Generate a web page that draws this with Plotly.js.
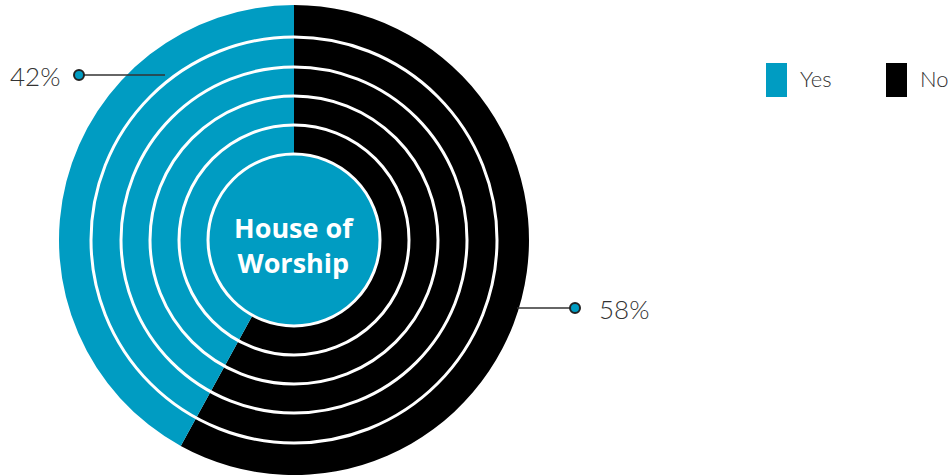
<!DOCTYPE html>
<html>
<head>
<meta charset="utf-8">
<script src="https://cdn.plot.ly/plotly-3.0.1.min.js"></script>
<style>html,body{margin:0;padding:0;background:#fff;}#chart{width:949px;height:476px;}</style>
</head>
<body>
<div id="chart"></div>
<script>
// ---- data ----
const labels = ['Yes', 'No'];
const values = [42, 58];
const colors = ['#009cc2', '#000000'];
const centerLabel = ['House of', 'Worship'];

// ---- layout helpers (pixel -> paper, margins are zero) ----
const W = 949, H = 476;
const px = x => x / W;
const py = y => 1 - y / H;
const cx = 294, cy = 240, R = 235;

const shapes = [];
// concentric white rings
[115, 144, 173, 203].forEach(r => {
  shapes.push({type: 'circle', xref: 'paper', yref: 'paper',
    x0: px(cx - r), x1: px(cx + r), y0: py(cy + r), y1: py(cy - r),
    line: {color: '#ffffff', width: 3}});
});
// centre disc
shapes.push({type: 'circle', xref: 'paper', yref: 'paper',
  x0: px(cx - 86), x1: px(cx + 86), y0: py(cy + 86), y1: py(cy - 86),
  fillcolor: colors[0], line: {color: '#ffffff', width: 3}});

// leader lines + dots
const leaders = [
  {x0: 165, x1: 79, y: 75, tx: 62, anchor: 'right'},
  {x0: 517, x1: 575, y: 308, tx: 597, anchor: 'left'}
];
const annotations = [];
leaders.forEach((l, i) => {
  shapes.push({type: 'line', xref: 'paper', yref: 'paper',
    x0: px(l.x0), x1: px(l.x1), y0: py(l.y), y1: py(l.y),
    line: {color: '#333333', width: 1.5}});
  shapes.push({type: 'circle', xref: 'paper', yref: 'paper',
    x0: px(l.x1 - 5), x1: px(l.x1 + 5), y0: py(l.y + 5), y1: py(l.y - 5),
    fillcolor: colors[0], line: {color: '#222222', width: 2}});
  annotations.push({xref: 'paper', yref: 'paper', x: px(l.tx), y: py(l.y + 1),
    xanchor: l.anchor, yanchor: 'middle', showarrow: false,
    text: values[i] + '%', font: {family: 'Lato', size: 26, color: '#333333', weight: 300}});
});

// custom legend
const legX = [766, 886];
labels.forEach((lab, i) => {
  shapes.push({type: 'rect', xref: 'paper', yref: 'paper',
    x0: px(legX[i]), x1: px(legX[i] + 21), y0: py(97), y1: py(63),
    fillcolor: colors[i], line: {width: 0}});
  annotations.push({xref: 'paper', yref: 'paper', x: px(legX[i] + 32), y: py(79),
    xanchor: 'left', yanchor: 'middle', showarrow: false,
    text: lab, font: {family: 'Lato', size: 22, color: '#333333', weight: 300}});
});

// centre text
annotations.push({xref: 'paper', yref: 'paper', x: px(cx), y: py(cy + 5),
  xanchor: 'center', yanchor: 'middle', showarrow: false,
  text: '<b>' + centerLabel.join('<br>') + '</b>',
  font: {family: 'Open Sans', size: 27, color: '#ffffff'}});

// slices drawn clockwise from 12 o'clock: "No" first, then "Yes"
const order = [1, 0];
const trace = {
  type: 'pie',
  labels: order.map(i => labels[i]),
  values: order.map(i => values[i]),
  marker: {colors: order.map(i => colors[i]), line: {width: 0}},
  sort: false,
  direction: 'clockwise',
  rotation: 0,
  textinfo: 'none',
  hoverinfo: 'label+percent',
  domain: {x: [px(cx - R), px(cx + R)], y: [py(cy + R), py(cy - R)]},
  showlegend: false
};

Plotly.newPlot('chart', [trace], {
  width: W, height: H,
  margin: {l: 0, r: 0, t: 0, b: 0},
  paper_bgcolor: '#ffffff',
  showlegend: false,
  shapes: shapes,
  annotations: annotations
}, {displayModeBar: false});
</script>
</body>
</html>
